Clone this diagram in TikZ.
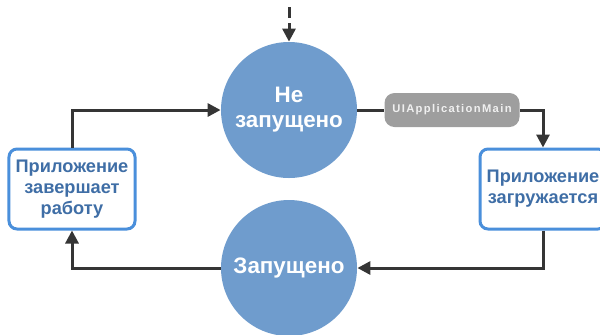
\documentclass[tikz,border=0pt]{standalone}
\usepackage{fontspec}
\setmainfont{Liberation Sans}
\newfontfamily\tagfont[LetterSpace=12]{Liberation Sans}
\usetikzlibrary{arrows.meta}
\definecolor{stateblue}{HTML}{6F9CCD}
\definecolor{boxblue}{HTML}{4A8FDB}
\definecolor{boxtext}{HTML}{3F6EA6}
\definecolor{taggray}{HTML}{9E9E9E}
\definecolor{tagtext}{HTML}{F0F0F0}
\definecolor{arrowgray}{HTML}{353535}
\begin{document}
\begin{tikzpicture}[x=0.5pt,y=-0.5pt,
  state/.style={circle,fill=stateblue,minimum size=68pt,inner sep=0pt,text=white,
    font=\bfseries\fontsize{11.2}{12.5}\selectfont,align=center},
  stagebox/.style={draw=boxblue,line width=1.5pt,rounded corners=4pt,fill=white,
    minimum width=63pt,minimum height=40pt,text=boxtext,
    font=\bfseries\fontsize{9.1}{10.5}\selectfont,align=center},
  tag/.style={fill=taggray,rounded corners=5pt,text=tagtext,minimum width=67.5pt,
    minimum height=17pt,inner sep=0pt,font=\tagfont\bfseries\fontsize{5.6}{6}\selectfont},
  link/.style={draw=arrowgray,line width=1.5pt,-{Triangle[width=6.5pt,length=6.5pt]}}]
\clip (0,0) rectangle (600,334);
\node[state] (notrun) at (289,110) {Не\\запущено};
\node[state] (run) at (289,268) {Запущено};
\node[stagebox] (launch) at (543,189) {Приложение\\загружается};
\node[stagebox] (quit) at (72,189) {Приложение\\завершает\\работу};
\node[tag] (uimain) at (452,110) {UIApplicationMain};
\coordinate (entry) at (289,7);
\draw[link,dash pattern=on 5.5pt off 2.5pt] (entry) -- (notrun);
\draw[draw=arrowgray,line width=1.5pt] (notrun.east) -- (uimain.west);
\draw[link] (uimain.east) -| (launch.north);
\draw[link] (launch.south) |- (run.east);
\draw[link] (run.west) -| (quit.south);
\draw[link] (quit.north) |- (notrun.west);
\end{tikzpicture}
\end{document}
